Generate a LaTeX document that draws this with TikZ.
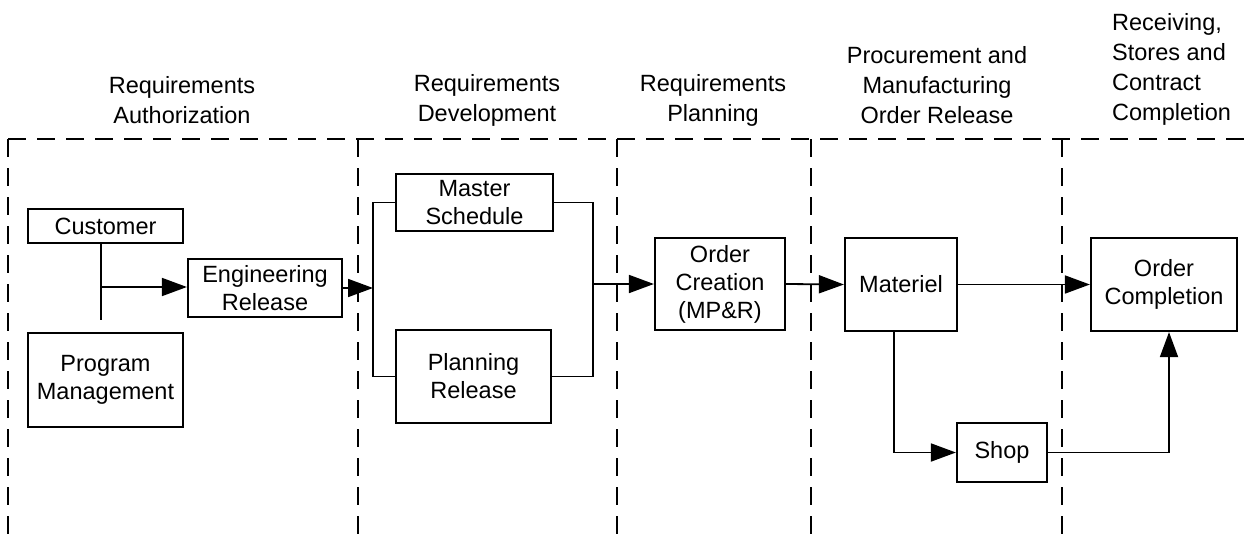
\documentclass[tikz,border=0pt]{standalone}
\usepackage{fontspec}
\setmainfont{Liberation Sans}
\usetikzlibrary{arrows.meta}
\begin{document}
\begin{tikzpicture}[x=1pt,y=-1pt,
  box/.style={draw,line width=2.2pt,rectangle,inner sep=0pt,align=center,
    font=\fontsize{23.5}{28}\selectfont},
  hdr/.style={align=center,inner sep=0pt,font=\fontsize{23.5}{30}\selectfont},
  conn/.style={line width=1.8pt},
  arr/.style={line width=1.8pt,-{Triangle[length=25pt,width=18pt]}},
  lane/.style={line width=2.2pt,dash pattern=on 18pt off 11pt}]
\useasboundingbox (0,0) rectangle (1244,535);
% lanes
\draw[lane] (8,139) -- (1244,139);
\foreach \x in {8,358,617,811,1062} \draw[lane] (\x,139) -- (\x,535);
% headers
\node[hdr] (h1) at (182,100) {Requirements\\Authorization};
\node[hdr] (h2) at (487,100) {Requirements\\Development};
\node[hdr] (h3) at (713,100) {Requirements\\Planning};
\node[hdr] (h4) at (937,85) {Procurement and\\Manufacturing\\Order Release};
\node[hdr,anchor=west,align=left] (h5) at (1112,69) {Receiving,\\Stores and\\Contract\\Completion};
% boxes
\node[box,minimum width=155pt,minimum height=34pt] (cust) at (105.5,226) {Customer};
\node[box,minimum width=155pt,minimum height=94pt] (pm) at (105.5,380) {Program\\Management};
\node[box,minimum width=154pt,minimum height=58pt] (eng) at (265,288) {Engineering\\Release};
\node[box,minimum width=157pt,minimum height=57pt] (ms) at (474.5,202.5) {Master\\Schedule};
\node[box,minimum width=155pt,minimum height=93pt] (pr) at (473.5,376.5) {Planning\\Release};
\node[box,minimum width=130pt,minimum height=92pt] (oc) at (720,284) {Order\\Creation\\(MP\&R)};
\node[box,minimum width=112pt,minimum height=93pt] (mat) at (901,284.5) {Materiel};
\node[box,minimum width=146pt,minimum height=93pt] (ocomp) at (1164,284.5) {Order\\Completion};
\node[box,minimum width=90pt,minimum height=59pt] (shop) at (1002,452.5) {Shop};
% junctions
\coordinate (j1) at (101,287);
\coordinate (j2) at (101,320);
\coordinate (bl) at (373,287);
\coordinate (br) at (593,284);
\coordinate (m1) at (894,449);
\coordinate (c1) at (1169,450);
% connectors
\draw[conn] (j1 |- cust.south) -- (j2);
\draw[arr] (j1) -- (j1 -| eng.west);
\draw[arr] (eng.east) -- (eng.east -| bl);
\draw[conn] (ms.west) -- (ms.west -| bl) -- (pr.west -| bl) -- (pr.west);
\draw[conn] (ms.east) -- (ms.east -| br) -- (pr.east -| br) -- (pr.east);
\draw[arr] (br) -- (oc.west);
\draw[arr] (oc.east) -- (mat.west);
\draw[arr] (mat.east) -- (ocomp.west);
\draw[arr] (m1 |- mat.south) |- (shop.west);
\draw[arr] (shop.east) -| (c1 |- ocomp.south);
\end{tikzpicture}
\end{document}
